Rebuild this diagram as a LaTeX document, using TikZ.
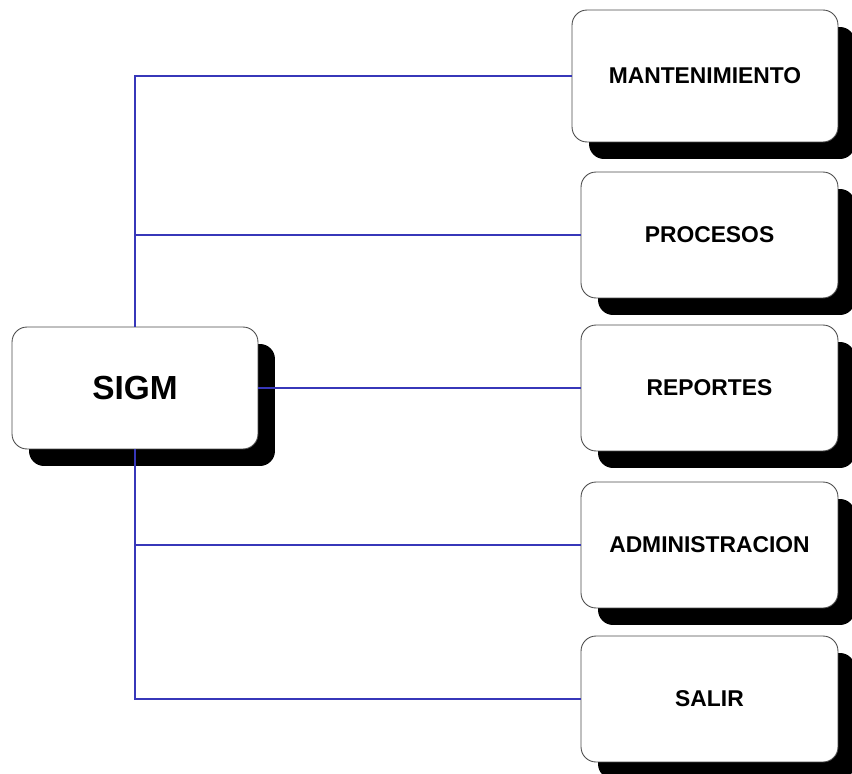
\documentclass[tikz,border=0pt]{standalone}
\usepackage{fontspec}
\setmainfont{Liberation Sans}
\usetikzlibrary{shadows}
\begin{document}
\begin{tikzpicture}[x=0.02cm, y=-0.02cm,
    modulo/.style ={draw=black!70, fill=white, rounded corners=0.3cm, line width=0.5pt,
                    minimum width=5.14cm, minimum height=2.52cm, font=\bfseries\fontsize{13}{15}\selectfont,
                    drop shadow={shadow xshift=0.34cm, shadow yshift=-0.34cm, fill=black, opacity=1}},
    raiz/.style ={modulo, minimum width=4.92cm, minimum height=2.44cm, font=\bfseries\fontsize{19}{22}\selectfont},
    link/.style ={draw={rgb,255:red,55;green,55;blue,185}, line width=0.9pt}]
   \useasboundingbox (0,0) rectangle (852,774);
   \clip (0,0) rectangle (852,774);
   \node[raiz]   (S) at (135,388)   {SIGM};
   \node[modulo, minimum width=5.32cm, minimum height=2.64cm] (M) at (705,76) {MANTENIMIENTO};
   \node[modulo] (P) at (709.5,235) {PROCESOS};
   \node[modulo] (R) at (709.5,388) {REPORTES};
   \node[modulo] (A) at (709.5,545) {ADMINISTRACION};
   \node[modulo] (X) at (709.5,699) {SALIR};

   \draw[link] (S.north) |- (M.west);
   \draw[link] (S.north) |- (P.west);
   \draw[link] (S.east)  -- (R.west);
   \draw[link] (S.south) |- (A.west);
   \draw[link] (S.south) |- (X.west);
 \end{tikzpicture}
\end{document}
